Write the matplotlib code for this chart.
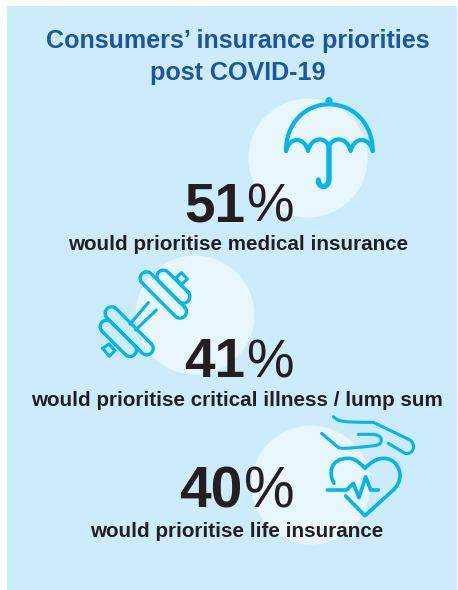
import numpy as np
import matplotlib
matplotlib.use("Agg")
import matplotlib.pyplot as plt
from matplotlib.patches import Circle, PathPatch, Rectangle
from matplotlib.path import Path

plt.rcParams["font.family"] = ["Liberation Sans", "DejaVu Sans"]

title_lines = ["Consumers\u2019 insurance priorities", "post COVID-19"]
percents = [51, 41, 40]
labels = [
    "would prioritise medical insurance",
    "would prioritise critical illness / lump sum",
    "would prioritise life insurance",
]

PANEL = "#CDECFB"
DISC = "#E8F6FE"
ICON = "#00B5F0"
TITLE = "#1C55A3"
DARK = "#231F20"

fig = plt.figure(figsize=(4.58, 5.90), dpi=100)
ax = fig.add_axes([0, 0, 1, 1])
ax.set_xlim(0, 458)
ax.set_ylim(590, 0)
ax.axis("off")

ax.add_patch(Rectangle((7, 6), 450, 584, fc=PANEL, ec="none"))
for cx, cy in [(308, 158), (195, 315), (311, 485)]:
    ax.add_patch(Circle((cx, cy), 59.5, fc=DISC, ec="none"))


def stroke(verts, codes, ox, oy, lw):
    # verts are given in 3x zoom coordinates from the crop at (ox, oy)
    pts = np.array(verts, dtype=float) / 3 + [ox, oy]
    ax.add_patch(PathPatch(Path(pts, codes), fc="none", ec=ICON, lw=lw,
                           capstyle="round", joinstyle="round"))


def capsule(p0, p1, r, ox, oy, lw):
    p0, p1 = np.array(p0, float), np.array(p1, float)
    a = np.arctan2(*(p1 - p0)[::-1])
    t = np.linspace(-np.pi / 2, np.pi / 2, 16)
    end1 = p1 + r * np.c_[np.cos(a + t), np.sin(a + t)]
    end0 = p0 + r * np.c_[np.cos(a + np.pi + t), np.sin(a + np.pi + t)]
    pts = np.vstack([end1, end0, end1[:1]])
    stroke(pts, [Path.MOVETO] + [Path.LINETO] * (len(pts) - 1), ox, oy, lw)


M, L, C = Path.MOVETO, Path.LINETO, Path.CURVE4

# umbrella
ux, uy = 230, 85
stroke([(168, 198), (168, 115), (225, 58), (297, 58), (370, 58), (428, 115), (428, 198)],
       [M, C, C, C, C, C, C], ux, uy, 3.0)
stroke([(168, 198), (178, 154), (224, 154), (234, 198),
        (244, 154), (287, 154), (297, 185),
        (307, 154), (352, 154), (362, 198),
        (372, 154), (418, 154), (428, 198)],
       [M] + [C] * 12, ux, uy, 3.0)
stroke([(297, 180), (297, 280), (297, 312), (265, 312), (265, 285)],
       [M, L, C, C, C], ux, uy, 3.8)
ax.add_patch(Circle((ux + 297 / 3, uy + 47 / 3), 3.6, fc=ICON, ec="none"))

# dumbbell
dx, dy = 85, 250
capsule((185, 85), (285, 185), 19.5, dx, dy, 2.4)
capsule((235, 80), (295, 140), 19.5, dx, dy, 2.4)
capsule((80, 190), (185, 295), 19.5, dx, dy, 2.4)
capsule((65, 230), (135, 300), 19.5, dx, dy, 2.4)
stroke([(135, 222), (190, 158)], [M, L], dx, dy, 2.2)
stroke([(152, 240), (214, 180)], [M, L], dx, dy, 2.2)
stroke([(272, 85), (289, 68), (307, 87), (290, 103), (272, 85)], [M, L, L, L, L], dx, dy, 2.2)
stroke([(53, 295), (72, 282), (90, 302), (73, 319), (53, 295)], [M, L, L, L, L], dx, dy, 2.2)

# hand and heart
hx, hy = 250, 405
stroke([(250, 35), (265, 50), (280, 52), (370, 52), (480, 105),
        (500, 120), (490, 150), (465, 145), (415, 115)],
       [M, C, C, L, L, C, C, C, L], hx, hy, 2.2)
stroke([(215, 85), (262, 125), (268, 132), (280, 132), (375, 122),
        (402, 118), (402, 88), (365, 88), (325, 88)],
       [M, L, C, C, L, C, C, C, L], hx, hy, 2.2)
stroke([(252, 235), (235, 205), (240, 160), (295, 160),
        (320, 160), (335, 180), (345, 190),
        (355, 180), (375, 160), (400, 160),
        (435, 160), (450, 190), (450, 212),
        (450, 230), (440, 245), (430, 255), (345, 332), (287, 273)],
       [M, C, C, C, C, C, C, C, C, C, C, C, C, C, C, C, L, L], hx, hy, 2.6)
stroke([(232, 255), (290, 255), (310, 235), (327, 278), (347, 215), (362, 255), (385, 255)],
       [M, L, L, L, L, L, L], hx, hy, 2.6)

# texts
for line, y in zip(title_lines, [48, 80]):
    ax.text(238, y, line, color=TITLE, fontsize=18.1, fontweight="bold", ha="center", va="baseline")

# bold digits, regular percent sign
digit_x = [184.5, 184, 179]
digit_size = [39.5, 39.5, 41]
sign_x = [246.5, 246, 244.5]
sign_size = [38.5, 38.5, 41]
y_pct = [222, 377, 507]
y_lab = [250, 406, 537]
x_lab = [238, 237, 237]
for i, (pct, label) in enumerate(zip(percents, labels)):
    ax.text(digit_x[i], y_pct[i], str(pct), color=DARK, fontsize=digit_size[i], fontweight="bold", ha="left", va="baseline")
    ax.text(sign_x[i], y_pct[i], "%", color=DARK, fontsize=sign_size[i], ha="left", va="baseline")
    ax.text(x_lab[i], y_lab[i], label, color=DARK, fontsize=14.9, fontweight="bold", ha="center", va="baseline")

fig.savefig("out.png", dpi=100)
